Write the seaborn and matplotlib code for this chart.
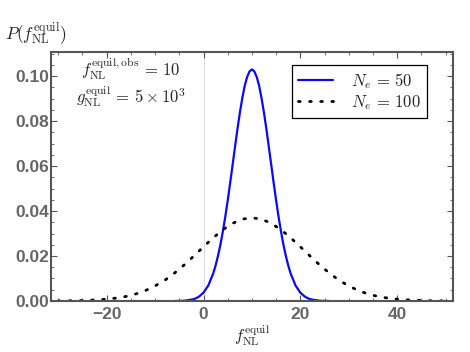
import pandas as pd
import matplotlib.pyplot as plt
import seaborn as sns
from matplotlib.ticker import MultipleLocator

# values
x_ne50 = ([-6, -5, -4, -3, -2, -1, 0, 1]
          + [2 + 0.5 * i for i in range(33)]
          + [19, 20, 21, 22, 23, 24, 25, 26])
p_ne50 = [0.0000, 0.0000, 0.0001, 0.0004, 0.0008, 0.0018, 0.0037, 0.0069,
          0.0122, 0.0158, 0.0201, 0.0251, 0.0310, 0.0375, 0.0447, 0.0524,
          0.0604, 0.0684, 0.0763, 0.0836, 0.0901, 0.0956, 0.0996, 0.1021,
          0.1030,
          0.1021, 0.0996, 0.0956, 0.0901, 0.0836, 0.0763, 0.0684, 0.0604,
          0.0524, 0.0447, 0.0375, 0.0310, 0.0251, 0.0201, 0.0158, 0.0122,
          0.0069, 0.0037, 0.0018, 0.0008, 0.0004, 0.0001, 0.0000, 0.0000]

x_ne100 = list(range(-30, 51, 2))
p_ne100 = [0.0000, 0.0001, 0.0001, 0.0003, 0.0005, 0.0008, 0.0013, 0.0020,
           0.0031, 0.0046, 0.0067, 0.0092, 0.0124, 0.0160, 0.0200, 0.0241,
           0.0281, 0.0317, 0.0345, 0.0364,
           0.0370,
           0.0364, 0.0345, 0.0317, 0.0281, 0.0241, 0.0200, 0.0160, 0.0124,
           0.0092, 0.0067, 0.0046, 0.0031, 0.0020, 0.0013, 0.0008, 0.0005,
           0.0003, 0.0001, 0.0001, 0.0000]

x_ticks = [-20, 0, 20, 40]
y_ticks = [0.00, 0.02, 0.04, 0.06, 0.08, 0.10]

df50 = pd.DataFrame({'f': x_ne50, 'P': p_ne50})
df100 = pd.DataFrame({'f': x_ne100, 'P': p_ne100})

sns.set_style('ticks')
plt.rcParams['font.family'] = ['Liberation Sans', 'DejaVu Sans']
plt.rcParams['mathtext.fontset'] = 'cm'

fig = plt.figure(figsize=(4.7, 3.52), dpi=100)
ax = fig.add_axes([0.1085, 0.145, 0.855, 0.707])

ax.axvline(0, color='#dddddd', lw=0.8, zorder=0)
sns.lineplot(data=df50, x='f', y='P', ax=ax, color='#0a0af5', lw=1.6,
             label=r'$N_e \,=\, 50$')
sns.lineplot(data=df100, x='f', y='P', ax=ax, color='black', lw=2.0,
             linestyle=(0, (0.6, 3.4)), dash_capstyle='round',
             label=r'$N_e \,=\, 100$')

ax.set_xlim(-31.5, 51.5)
ax.set_ylim(0, 0.1107)
ax.set_xticks(x_ticks)
ax.set_yticks(y_ticks)
ax.set_xticklabels([str(t).replace('-', '\u2212') for t in x_ticks])
ax.set_yticklabels([f'{t:.2f}' for t in y_ticks])
ax.xaxis.set_minor_locator(MultipleLocator(5))
ax.yaxis.set_minor_locator(MultipleLocator(0.005))
ax.tick_params(which='both', direction='in', top=True, right=True,
               color='#555555', labelsize=12.5, labelcolor='#666666')
ax.tick_params(which='major', length=4, width=0.8)
ax.tick_params(which='minor', length=2, width=0.6)
ax.tick_params(axis='y', which='major', pad=1.5)
ax.tick_params(axis='x', which='major', pad=4.5)
for lab in ax.get_xticklabels() + ax.get_yticklabels():
    lab.set_fontweight('bold')
for sp in ax.spines.values():
    sp.set_color('#555555')
    sp.set_linewidth(1.5)

ax.set_xlabel(r'$f_{\mathrm{NL}}^{\mathrm{equil}}$', fontsize=12, labelpad=0)
ax.set_ylabel('')
fig.text(0.01, 0.886, r'$P(f_{\mathrm{NL}}^{\mathrm{equil}})$', fontsize=12.5,
         va='baseline')

ax.text(0.199, 0.905, r'$f_{\mathrm{NL}}^{\mathrm{equil,obs}} \,=\, 10$',
        transform=ax.transAxes, fontsize=12, ha='center', va='baseline')
ax.text(0.199, 0.797, r'$g_{\mathrm{NL}}^{\mathrm{equil}} \,=\, 5\times10^3$',
        transform=ax.transAxes, fontsize=12, ha='center', va='baseline')

leg = ax.legend(loc='upper right', bbox_to_anchor=(0.935, 0.948),
                borderaxespad=0, fontsize=12, frameon=True, fancybox=False,
                handlelength=2.1, borderpad=0.35, labelspacing=0.15,
                handletextpad=1.1)
leg.get_frame().set_edgecolor('black')
leg.get_frame().set_linewidth(0.9)
leg.get_frame().set_alpha(1)

fig.savefig('out.png', dpi=100)
